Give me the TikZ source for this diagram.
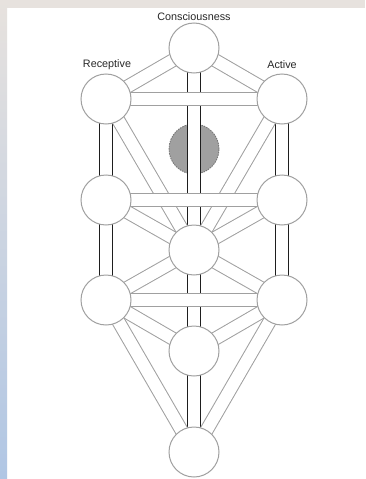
\documentclass[tikz,border=0pt]{standalone}
\usepackage{fontspec}
\setmainfont{Liberation Sans}
\definecolor{bandtop}{RGB}{231,226,222}
\definecolor{stripbot}{RGB}{176,198,228}
\definecolor{chgray}{RGB}{160,160,160}
\definecolor{chblack}{RGB}{30,30,30}
\definecolor{daatfill}{RGB}{160,160,160}
\definecolor{daatedge}{RGB}{120,120,120}
\definecolor{txt}{RGB}{40,40,40}
\tikzset{
  chan/.style={draw=chgray, line width=1pt, double=white, double distance=12pt},
  pillar/.style={draw=chblack, line width=1.6pt, double=white, double distance=11.4pt},
  sefira/.style={circle, draw=chgray, line width=1pt, fill=white, minimum size=50pt, inner sep=0pt},
  daatc/.style={circle, draw=daatedge, line width=0.9pt, dash pattern=on 1.5pt off 1pt, fill=daatfill, minimum size=50pt, inner sep=0pt},
  lbl/.style={text=txt, font=\fontsize{10.8}{12}\selectfont, inner sep=0pt}
}
\begin{document}
\begin{tikzpicture}[x=1pt,y=-1pt]
\useasboundingbox (0,0) rectangle (365,479);
% background
\fill[white] (0,0) rectangle (365,479);
\fill[bandtop] (0,0) rectangle (365,8);
\shade[top color=bandtop, bottom color=stripbot] (0,0) rectangle (7,479);
% positions
\coordinate (k) at (194,48);
\coordinate (b) at (106,99);
\coordinate (c) at (282,99);
\coordinate (d) at (194,149);
\coordinate (g) at (106,200);
\coordinate (h) at (282,200);
\coordinate (t) at (194,250);
\coordinate (ho) at (106,300);
\coordinate (n) at (282,300);
\coordinate (y) at (194,351);
\coordinate (m) at (194,452);
% Daat
\node[daatc] (daat) at (d) {};
% pillars (black)
\draw[pillar] (b) -- (g);
\draw[pillar] (g) -- (ho);
\draw[pillar] (c) -- (h);
\draw[pillar] (h) -- (n);
\draw[pillar] (k) -- (t);
\draw[pillar] (t) -- (y);
\draw[pillar] (y) -- (m);
% diagonals
\draw[chan] (k) -- (b);
\draw[chan] (k) -- (c);
\draw[chan] (b) -- (t);
\draw[chan] (c) -- (t);
\draw[chan] (g) -- (t);
\draw[chan] (h) -- (t);
\draw[chan] (ho) -- (t);
\draw[chan] (n) -- (t);
\draw[chan] (ho) -- (y);
\draw[chan] (n) -- (y);
\draw[chan] (ho) -- (m);
\draw[chan] (n) -- (m);
% horizontals
\draw[chan] (b) -- (c);
\draw[chan] (g) -- (h);
\draw[chan] (ho) -- (n);
% sefirot
\node[sefira] (K) at (k) {};
\node[sefira] (B) at (b) {};
\node[sefira] (C) at (c) {};
\node[sefira] (G) at (g) {};
\node[sefira] (H) at (h) {};
\node[sefira] (T) at (t) {};
\node[sefira] (HO) at (ho) {};
\node[sefira] (N) at (n) {};
\node[sefira] (Y) at (y) {};
\node[sefira] (M) at (m) {};
% labels
\node[lbl] (lk) at (194,17) {Consciousness};
\node[lbl] (lb) at (107,65) {Receptive};
\node[lbl] (lc) at (282,65) {Active};
\end{tikzpicture}
\end{document}
